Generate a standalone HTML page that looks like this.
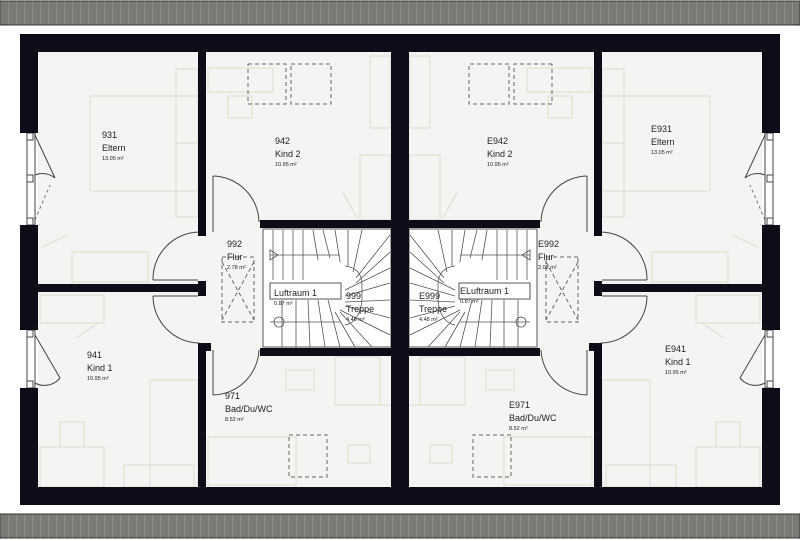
<!DOCTYPE html>
<html><head><meta charset="utf-8"><style>
html,body{margin:0;padding:0;background:#fff}
svg{display:block}
text{font-family:"Liberation Sans",sans-serif;fill:#222}
</style></head><body>
<svg width="800" height="541" viewBox="0 0 800 541" xmlns="http://www.w3.org/2000/svg">
<defs>
<pattern id="roof" width="8" height="24" patternUnits="userSpaceOnUse">
<rect width="8" height="24" fill="#7a7a74"/><line x1="0.5" y1="0" x2="0.5" y2="24" stroke="#8e8e88" stroke-width="1"/>
</pattern>
<g id="half">
<!-- interior floor -->
<rect x="38" y="52" width="354" height="435" fill="#f4f4f2"/>
<!-- furniture lines -->
<g fill="none" stroke="#dedccc" stroke-width="1">
<rect x="90" y="96" width="108" height="95"/>
<rect x="176" y="69" width="22" height="74"/>
<rect x="176" y="143" width="22" height="74"/>
<rect x="72" y="252" width="76" height="30"/>
<line x1="42" y1="247" x2="68" y2="235"/>
<rect x="208" y="68" width="65" height="24"/>
<rect x="228" y="96" width="24" height="22"/>
<rect x="370" y="56" width="20" height="72"/>
<rect x="360" y="155" width="30" height="65"/>
<line x1="343" y1="192" x2="358" y2="220"/>
<rect x="40" y="295" width="64" height="28"/>
<line x1="76" y1="338" x2="100" y2="322"/>
<rect x="60" y="422" width="24" height="25"/>
<rect x="40" y="447" width="64" height="40"/>
<rect x="150" y="380" width="48" height="107"/>
<rect x="124" y="465" width="70" height="22"/>
<rect x="208" y="437" width="88" height="48"/>
<rect x="286" y="370" width="28" height="20"/>
<rect x="335" y="357" width="45" height="48"/>
<rect x="348" y="445" width="22" height="18"/>
<line x1="380" y1="405" x2="390" y2="405"/>
</g>
<g fill="none" stroke="#666" stroke-width="1" stroke-dasharray="4,3">
<rect x="248" y="64" width="38" height="40"/>
<rect x="291" y="64" width="40" height="40"/>
<rect x="289" y="435" width="38" height="42"/>
<rect x="222" y="257" width="32" height="65"/>
<line x1="222" y1="262" x2="254" y2="320"/><line x1="254" y1="262" x2="222" y2="320"/>
</g>
<!-- stair -->
<rect x="263" y="229" width="128" height="118" fill="#fff" stroke="#555" stroke-width="1"/>
<g stroke="#555" stroke-width="0.8" fill="none">
<line x1="273" y1="230" x2="273" y2="280"/><line x1="283" y1="230" x2="283" y2="280"/>
<line x1="293" y1="230" x2="293" y2="280"/><line x1="303" y1="230" x2="303" y2="280"/>
<line x1="313" y1="230" x2="318" y2="260"/><line x1="323" y1="230" x2="330" y2="258"/>
<line x1="335" y1="230" x2="340" y2="262"/><line x1="348" y1="230" x2="348" y2="266"/>
<line x1="362" y1="230" x2="353" y2="272"/><line x1="390" y1="235" x2="356" y2="278"/>
<line x1="390" y1="252" x2="356" y2="283"/><line x1="390" y1="268" x2="345" y2="290"/>
<line x1="390" y1="283" x2="345" y2="296"/><line x1="390" y1="300" x2="345" y2="302"/>
<line x1="390" y1="318" x2="345" y2="306"/><line x1="390" y1="335" x2="340" y2="310"/>
<line x1="372" y1="347" x2="340" y2="312"/><line x1="355" y1="347" x2="335" y2="312"/>
<line x1="340" y1="347" x2="328" y2="300"/><line x1="325" y1="347" x2="318" y2="300"/>
<line x1="310" y1="347" x2="308" y2="300"/><line x1="296" y1="347" x2="296" y2="300"/>
<line x1="282" y1="347" x2="282" y2="300"/>
<path d="M345 266 Q362 268 362 285 L362 300 Q360 322 345 325"/>
<line x1="270" y1="255" x2="340" y2="255"/>
<line x1="270" y1="322" x2="340" y2="322"/>
<path d="M270 250 L278 255 L270 260 Z"/>
<circle cx="279" cy="322" r="5"/>
</g>
<rect x="270" y="283" width="71" height="16" fill="#fff" stroke="#555" stroke-width="1"/>
<!-- door arcs -->
<g fill="none" stroke="#444" stroke-width="1">
<path d="M213 176 A47 47 0 0 1 259 222"/><line x1="213" y1="176" x2="213" y2="232"/>
<path d="M200 232 A47 47 0 0 0 153 280"/><line x1="153" y1="280" x2="198" y2="280"/>
<path d="M153 296 A47 47 0 0 0 199 343"/><line x1="153" y1="296" x2="198" y2="296"/>
<path d="M213 395 A47 47 0 0 0 259 350"/><line x1="213" y1="350" x2="213" y2="395"/>
<path d="M35 175 A20 20 0 0 1 55 178"/><line x1="35" y1="135" x2="55" y2="178"/>
<path d="M35 383 A20 20 0 0 0 60 378"/><line x1="35" y1="335" x2="60" y2="378"/>
</g>
<g stroke="#777" stroke-width="1" stroke-dasharray="3,3"><line x1="35" y1="220" x2="50" y2="185"/></g>
<!-- windows -->
<g fill="#fff" stroke="#444" stroke-width="1">
<rect x="27" y="133" width="8" height="92"/>
<rect x="27" y="330" width="8" height="58"/>
<rect x="27" y="133" width="6" height="7"/><rect x="27" y="175" width="6" height="7"/><rect x="27" y="218" width="6" height="7"/>
<rect x="27" y="330" width="6" height="7"/><rect x="27" y="381" width="6" height="7"/>
</g>
<!-- walls -->
<g fill="#0d0d1a">
<rect x="20" y="34" width="380" height="18"/>
<rect x="20" y="487" width="380" height="18"/>
<rect x="20" y="34" width="18" height="99"/>
<rect x="20" y="225" width="18" height="105"/>
<rect x="20" y="388" width="18" height="117"/>
<rect x="198" y="52" width="8" height="178"/>
<rect x="198" y="228" width="8" height="8" />
<rect x="38" y="284" width="168" height="8"/>
<rect x="198" y="281" width="8" height="15"/>
<rect x="198" y="343" width="8" height="144"/>
<rect x="206" y="343" width="5" height="8"/>
<rect x="260" y="220" width="140" height="8"/>
<rect x="260" y="348" width="140" height="8"/>
<rect x="392" y="34" width="8" height="471"/>
</g>
</g>
</defs>
<rect width="800" height="541" fill="#fff"/>
<rect x="0" y="1" width="800" height="24" fill="url(#roof)" stroke="#333" stroke-width="1"/>
<rect x="0" y="514" width="800" height="24" fill="url(#roof)" stroke="#333" stroke-width="1"/>
<use href="#half"/>
<g transform="translate(800,0) scale(-1,1)"><use href="#half"/></g>
<rect x="391" y="34" width="18" height="471" fill="#0d0d1a"/>
<g font-size="9">
<text x="102" y="138">931</text><text x="102" y="151">Eltern</text>
<text x="102" y="160" font-size="5.5">13.05 m²</text>
<text x="275" y="144">942</text><text x="275" y="157">Kind 2</text>
<text x="275" y="166" font-size="5.5">10.95 m²</text>
<text x="87" y="358">941</text><text x="87" y="371">Kind 1</text>
<text x="87" y="380" font-size="5.5">10.95 m²</text>
<text x="227" y="247">992</text><text x="227" y="260">Flur</text>
<text x="227" y="269" font-size="5.5">2.78 m²</text>
<text x="225" y="399">971</text><text x="225" y="412">Bad/Du/WC</text>
<text x="225" y="421" font-size="5.5">8.52 m²</text>
<text x="274" y="296">Luftraum 1</text><text x="274" y="305" font-size="5.5">0.87 m²</text>
<text x="346" y="299">999</text><text x="346" y="312">Treppe</text>
<text x="346" y="321" font-size="5.5">4.46 m²</text>
<text x="487" y="144">E942</text><text x="487" y="157">Kind 2</text>
<text x="487" y="166" font-size="5.5">10.95 m²</text>
<text x="651" y="132">E931</text><text x="651" y="145">Eltern</text>
<text x="651" y="154" font-size="5.5">13.05 m²</text>
<text x="665" y="352">E941</text><text x="665" y="365">Kind 1</text>
<text x="665" y="374" font-size="5.5">10.95 m²</text>
<text x="538" y="247">E992</text><text x="538" y="260">Flur</text>
<text x="538" y="269" font-size="5.5">2.08 m²</text>
<text x="509" y="408">E971</text><text x="509" y="421">Bad/Du/WC</text>
<text x="509" y="430" font-size="5.5">8.52 m²</text>
<text x="460" y="294">ELuftraum 1</text><text x="460" y="303" font-size="5.5">0.87 m²</text>
<text x="419" y="299">E999</text><text x="419" y="312">Treppe</text>
<text x="419" y="321" font-size="5.5">4.48 m²</text>
</g>
</svg>
</body></html>
